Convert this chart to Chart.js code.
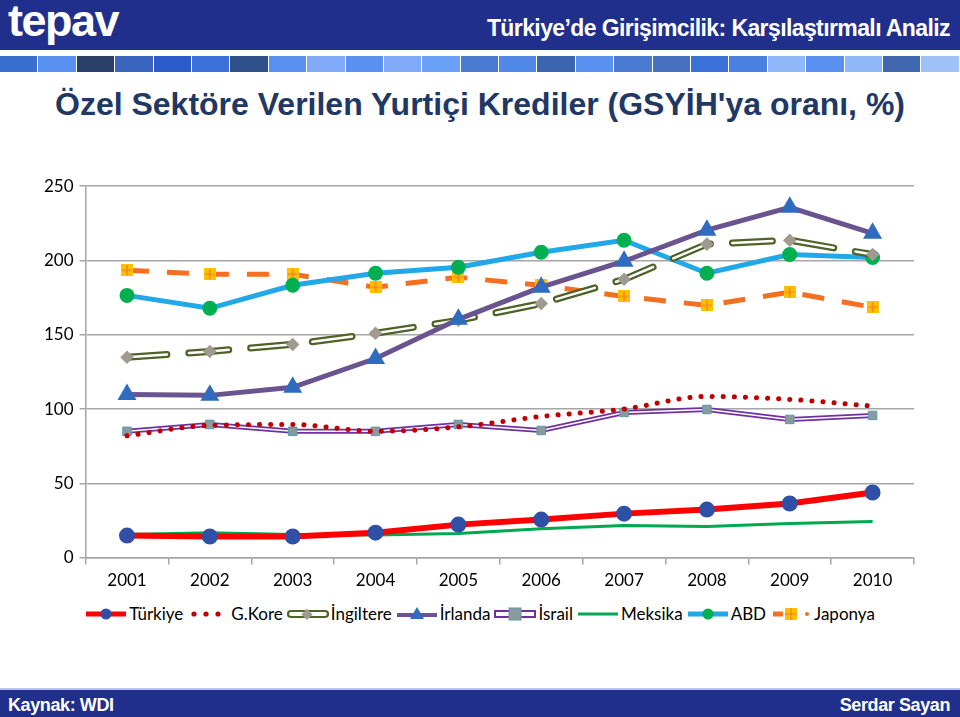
<!DOCTYPE html>
<html>
<head>
<meta charset="utf-8">
<script src="https://cdn.jsdelivr.net/npm/chart.js@4"></script>
<style>
  body { margin: 0; width: 960px; height: 717px; overflow: hidden; background: #fff; position: relative; font-family: 'Liberation Sans', Arial, sans-serif; }
  #band { position: absolute; left: 0; top: 0; width: 960px; height: 50px; background: #202f8c; }
  #logo { position: absolute; left: 8px; top: -5px; color: #fff; font-size: 45px; font-weight: bold; letter-spacing: -1.5px; }
  #head { position: absolute; right: 10px; top: 15px; color: #fff; font-size: 23px; font-weight: bold; letter-spacing: -0.6px; }
  #strip { position: absolute; left: 0; top: 56px; width: 960px; height: 16px; display: flex; }
  #strip div { width: 37.4px; margin-right: 1px; height: 16px; }
  #title { position: absolute; left: 0; top: 86px; width: 960px; text-align: center; color: #1f3864; font-size: 32px; font-weight: bold; }
  #wrap { position: absolute; left: 0; top: 170px; width: 960px; height: 427px; }
  #legend { position: absolute; left: 0; top: 603px; width: 960px; display: flex; justify-content: center; font-family: Lato, 'Open Sans', sans-serif; font-size: 17px; color: #000; }
  #legend span { display: flex; align-items: center; margin: 0 1px; }
  #foot { position: absolute; left: 0; top: 688px; width: 960px; height: 29px; background: #202f8c; border-top: 2px solid #b8c4e8; color: #fff; font-weight: bold; font-size: 18px; letter-spacing: -0.4px; }
  #foot .l { position: absolute; left: 8px; top: 5px; }
  #foot .r { position: absolute; right: 10px; top: 5px; }
</style>
</head>
<body>
<div id="band"></div>
<div id="logo">tepav</div>
<div id="head">Türkiye’de Girişimcilik: Karşılaştırmalı Analiz</div>
<div id="strip"></div>
<div id="title">Özel Sektöre Verilen Yurtiçi Krediler (GSYİH'ya oranı, %)</div>
<div id="wrap"><canvas id="chart"></canvas></div>
<div id="legend"></div>
<div id="foot"><span class="l">Kaynak: WDI</span><span class="r">Serdar Sayan</span></div>
<script>
const years = ['2001', '2002', '2003', '2004', '2005', '2006', '2007', '2008', '2009', '2010'];
const yTicks = [0, 50, 100, 150, 200, 250];

const turkiye   = [14.8, 14.2, 14.2, 16.8, 22.2, 25.6, 29.6, 32.3, 36.4, 43.8];
const gkore     = [82, 89, 89.6, 85, 88, 95, 100, 108.5, 106.5, 102];
const ingiltere = [134.8, 138.8, 143.5, 151, 159.7, 171, 187.3, 211, 213.6, 204];
const irlanda   = [109.8, 109.2, 114.6, 134, 160.4, 182, 199.5, 220.4, 235.8, 218.3];
const israil    = [85, 89.6, 85, 85, 89.6, 85.6, 97.7, 99.7, 93, 95.7];
const meksika   = [15.5, 16.8, 15.5, 15.2, 16.2, 19.5, 21.6, 20.9, 22.9, 24.3];
const abd       = [176.5, 167.8, 183.3, 191.4, 195.4, 205.5, 213.6, 191.4, 204, 202];
const japonya   = [193.4, 190.7, 190.7, 182, 188.7, 183.3, 175.8, 169.8, 178.6, 168.5];

// header strip of squares
const stripColors = ['#3a6fd0','#5a90f0','#2a3e68','#3b66c0','#2c5ac8','#3a70d8','#30508a','#5a90f0','#80aaf8','#5a90f0',
  '#80aaf8','#6aa0f8','#4a7ad0','#5088e8','#3a66b0','#5a90f0','#4a7ad0','#4870c0','#3a70d8','#4a80e0',
  '#90b8f8','#5a90f0','#90b8f8','#4068b0','#a0c0f8'];
const strip = document.getElementById('strip');
stripColors.forEach(c => { const d = document.createElement('div'); d.style.background = c; strip.appendChild(d); });

// yellow square with orange cross (Japonya marker)
function japMarker() {
  const c = document.createElement('canvas');
  c.width = 12; c.height = 12;
  const g = c.getContext('2d');
  g.fillStyle = '#ffc000'; g.fillRect(0, 0, 12, 12);
  g.strokeStyle = '#f07828'; g.lineWidth = 1.2;
  g.beginPath(); g.moveTo(6, 1); g.lineTo(6, 11); g.moveTo(1, 6); g.lineTo(11, 6); g.stroke();
  return c;
}
const japImg = japMarker();

const datasets = [
  { label: 'Türkiye', data: turkiye, borderColor: '#ff0000', borderWidth: 6, pointStyle: 'circle', pointRadius: 5,
    pointBackgroundColor: '#3050a8', pointBorderColor: '#3050a8', order: 1 },
  { label: 'G.Kore', data: gkore, borderColor: '#c00000', borderWidth: 5, borderDash: [0.1, 11], borderCapStyle: 'round',
    cubicInterpolationMode: 'monotone', pointRadius: 0, order: 3 },
  { label: 'İngiltere', data: ingiltere, borderColor: '#4f6228', borderWidth: 7, borderDash: [40, 22], borderCapStyle: 'round',
    pointRadius: 0, order: 6 },
  { label: '_ing', data: ingiltere, borderColor: '#ffffff', borderWidth: 2.5, borderDash: [40, 22], borderCapStyle: 'round',
    pointStyle: 'rectRot', pointRadius: 5, pointBackgroundColor: '#a09a90', pointBorderColor: '#a09a90', order: 5 },
  { label: 'İrlanda', data: irlanda, borderColor: '#6a5490', borderWidth: 5, pointStyle: 'triangle', pointRadius: 6,
    pointBackgroundColor: '#2f6cc0', pointBorderColor: '#2f6cc0', order: 4 },
  { label: 'İsrail', data: israil, borderColor: '#7030a0', borderWidth: 5, pointRadius: 0, order: 8 },
  { label: '_isr', data: israil, borderColor: '#ffffff', borderWidth: 1.5, pointStyle: 'rect', pointRadius: 6,
    pointBackgroundColor: '#8c9aa0', pointBorderColor: '#5a9aa8', pointBorderWidth: 1, order: 7 },
  { label: 'Meksika', data: meksika, borderColor: '#00a850', borderWidth: 3, pointRadius: 0, order: 2 },
  { label: 'ABD', data: abd, borderColor: '#20a8e8', borderWidth: 5, pointStyle: 'circle', pointRadius: 5,
    pointBackgroundColor: '#00b050', pointBorderColor: '#00b050', order: 9 },
  { label: 'Japonya', data: japonya, borderColor: '#f47020', borderWidth: 5, borderDash: [22, 18],
    pointStyle: japImg, order: 10 }
];
datasets.forEach(d => { d.fill = false; d.tension = d.tension || 0; });

new Chart(document.getElementById('chart'), {
  type: 'line',
  data: { labels: years, datasets: datasets },
  options: {
    responsive: true, maintainAspectRatio: false, animation: false,
    layout: { padding: { left: 38, right: 46, top: 8, bottom: 0 } },
    plugins: { legend: { display: false }, tooltip: { enabled: false } },
    scales: {
      x: {
        offset: true,
        grid: { offset: true, drawOnChartArea: false, drawTicks: true, tickLength: 7, color: '#a6a6a6', lineWidth: 1.5 },
        border: { color: '#a6a6a6', width: 1.5 },
        ticks: { color: '#000', font: { family: 'Lato', size: 17 }, padding: 6 }
      },
      y: {
        min: 0, max: 250,
        afterBuildTicks: axis => { axis.ticks = yTicks.map(v => ({ value: v })); },
        grid: { color: '#a6a6a6', lineWidth: 1.5, tickLength: 6 },
        border: { color: '#a6a6a6', width: 1.5 },
        ticks: { color: '#000', font: { family: 'Lato', size: 17 }, padding: 6 }
      }
    }
  }
});

// HTML legend with small swatches mimicking line styles
const legend = document.getElementById('legend');
function swatch(svgInner) {
  return '<svg width="44" height="16" viewBox="0 0 44 16">' + svgInner + '</svg>';
}
const sw = {
  'Türkiye': '<line x1="2" y1="8" x2="42" y2="8" stroke="#ff0000" stroke-width="5"/><circle cx="22" cy="8" r="5.5" fill="#3050a8"/>',
  'G.Kore': '<circle cx="8" cy="8" r="2.6" fill="#c00000"/><circle cx="20" cy="8" r="2.6" fill="#c00000"/><circle cx="32" cy="8" r="2.6" fill="#c00000"/>',
  'İngiltere': '<rect x="2" y="5" width="40" height="6" rx="3" fill="#fff" stroke="#4f6228" stroke-width="2.2"/><rect x="17" y="3" width="8" height="8" fill="#a09a90" transform="rotate(45 21 7) translate(1 1)"/>',
  'İrlanda': '<line x1="2" y1="9" x2="42" y2="9" stroke="#6a5490" stroke-width="4"/><polygon points="22,1 29,13 15,13" fill="#2f6cc0"/>',
  'İsrail': '<rect x="2" y="5" width="40" height="6" fill="#fff" stroke="#7030a0" stroke-width="2"/><rect x="16" y="2" width="12" height="12" fill="#8c9aa0" stroke="#5a9aa8"/>',
  'Meksika': '<line x1="2" y1="8" x2="42" y2="8" stroke="#00a850" stroke-width="3"/>',
  'ABD': '<line x1="2" y1="8" x2="42" y2="8" stroke="#20a8e8" stroke-width="5"/><circle cx="22" cy="8" r="5.5" fill="#00b050"/>',
  'Japonya': '<line x1="4" y1="8" x2="14" y2="8" stroke="#f47020" stroke-width="5"/><rect x="16" y="2" width="12" height="12" fill="#ffc000"/><line x1="22" y1="2" x2="22" y2="14" stroke="#f07828"/><line x1="16" y1="8" x2="28" y2="8" stroke="#f07828"/><circle cx="38" cy="8" r="2" fill="#f47020"/>'
};
datasets.filter(d => !d.label.startsWith('_')).forEach(d => {
  const s = document.createElement('span');
  s.innerHTML = swatch(sw[d.label]) + '<span>' + d.label + '</span>';
  legend.appendChild(s);
});
</script>
</body>
</html>
